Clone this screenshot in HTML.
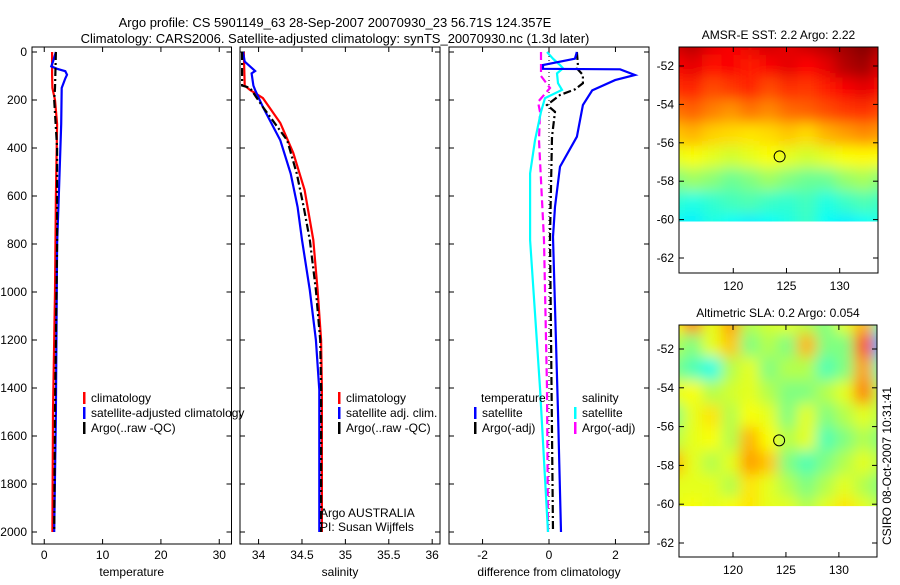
<!DOCTYPE html>
<html><head><meta charset="utf-8"><style>
body{margin:0;background:#fff}
svg{font-family:"Liberation Sans",sans-serif;font-size:12px}
</style></head><body>
<svg id="c" width="900" height="580" xmlns="http://www.w3.org/2000/svg">
<rect width="900" height="580" fill="#fff"/>
<text x="335" y="27" text-anchor="middle" font-size="13">Argo profile: CS 5901149_63 28-Sep-2007 20070930_23 56.71S 124.357E</text>
<text x="335" y="43" text-anchor="middle" font-size="13">Climatology: CARS2006. Satellite-adjusted climatology: synTS_20070930.nc (1.3d later)</text>
<g id="g"></g>
<text x="320" y="517">Argo AUSTRALIA</text>
<text x="320" y="531">PI: Susan Wijffels</text>
<text transform="translate(891,545) rotate(-90)">CSIRO 08-Oct-2007 10:31:41</text>
</svg>
<script>
// ---- data ----
const tempClimD=[0,100,150,200,300,600,1000,1500,2000];
const tempClimV=[1.35,1.35,1.4,1.85,2.2,2.0,1.85,1.5,1.4];
const tempSatD=[0,40,60,70,80,95,110,150,300,450,600,800,1500,2000];
const tempSatV=[2.0,1.5,1.2,2.2,3.6,3.9,3.6,3.0,2.9,2.7,2.5,2.2,2.0,1.7];
const tempArgoD=[0,150,200,400,800,1500,2000];
const tempArgoV=[2.0,1.85,1.7,2.2,2.2,1.85,1.7];
const salClimD=[0,140,158,192,296,421,575,783,992,1200,1408,2000];
const salClimV=[33.83,33.84,33.90,34.05,34.25,34.40,34.53,34.63,34.68,34.72,34.73,34.73];
const salSatD=[0,40,66,79,89,140,158,229,368,507,646,783,992,1200,1408,2000];
const salSatV=[33.82,33.84,33.92,33.96,33.92,33.94,33.96,34.05,34.25,34.37,34.45,34.50,34.59,34.66,34.70,34.70];
const salArgoD=[0,140,149,229,368,507,646,783,992,1200,1400,2000];
const salArgoV=[33.81,33.81,33.9,34.05,34.33,34.44,34.52,34.59,34.66,34.71,34.72,34.72];
const dTSatD=[0,28,54,70,72,96,117,160,221,353,478,645,770,1500,2000];
const dTSatV=[0.84,0.78,-0.18,-0.18,2.14,2.59,1.99,1.3,1.02,0.84,0.33,0.18,0.12,0.27,0.36];
const dTArgoD=[0,54,68,96,130,156,179,221,249,353,770,2000];
const dTArgoV=[0.84,0.87,0.84,1.02,1.02,0.78,0.33,-0.06,0.18,0.09,0.03,0.12];
const dSSatD=[0,28,54,68,89,130,158,192,249,368,506,784,1400,2000];
const dSSatV=[-0.06,0.12,0.33,0.42,0.24,0.27,0.39,-0.12,-0.24,-0.42,-0.57,-0.57,-0.27,-0.03];
const dSArgoD=[0,100,150,208,249,368,784,1400,2000];
const dSArgoV=[-0.24,-0.24,0.03,-0.33,-0.27,-0.3,-0.15,-0.06,-0.03];
const depthTicks=[0,200,400,600,800,1000,1200,1400,1600,1800,2000];
const tempTicks=[0,10,20,30];
const salTicks=[34,34.5,35,35.5,36];
const salTickLabels=["34","34.5","35","35.5","36"];
const diffTicks=[-2,0,2];
const sst=[
[.92,.95,.9,.88,.9,.92,.9,.93,.95,.97,1,.95],
[.88,.9,.86,.88,.85,.88,.9,.87,.9,.95,.97,.9],
[.83,.84,.8,.82,.84,.8,.83,.82,.85,.88,.9,.86],
[.76,.78,.75,.73,.76,.74,.77,.78,.8,.82,.83,.8],
[.68,.7,.67,.66,.65,.66,.68,.66,.7,.72,.74,.72],
[.6,.62,.6,.58,.6,.62,.6,.58,.6,.62,.63,.62],
[.5,.53,.51,.48,.5,.53,.5,.48,.48,.52,.54,.5],
[.42,.4,.42,.44,.45,.43,.42,.44,.4,.43,.45,.43],
[.38,.36,.4,.38,.36,.38,.4,.43,.38,.36,.38,.4]];
const sla=[
[.62,.75,.6,.72,.55,.58,.6,.55,.5,.6,.7,.45],
[.55,.5,.6,.68,.5,.55,.5,.7,.5,.5,.8,.3],
[.5,.45,.4,.55,.6,.5,.55,.55,.45,.5,.72,.45],
[.6,.62,.55,.58,.6,.55,.5,.5,.55,.6,.75,.55],
[.5,.6,.65,.55,.62,.6,.5,.6,.5,.55,.6,.55],
[.55,.6,.62,.55,.7,.62,.55,.6,.45,.5,.55,.5],
[.7,.6,.55,.6,.72,.68,.5,.45,.5,.55,.6,.55],
[.6,.6,.6,.55,.65,.6,.55,.5,.55,.6,.55,.5],
[.6,.62,.6,.62,.65,.6,.6,.55,.6,.65,.6,.55]];
const lonTicks=[120,125,130];
const latTicks=[-52,-54,-56,-58,-60,-62];
const floatLon=124.357, floatLat=-56.71;
// ---- drawing ----
const NS="http://www.w3.org/2000/svg";const G=document.getElementById('g');
function mk(t,a,p){const e=document.createElementNS(NS,t);for(const k in a)e.setAttribute(k,a[k]);(p||G).appendChild(e);return e;}
const dY=d=>52+d*0.24;
const panels=[
 {x0:32,x1:231.5,v0:-2.1,v1:32.1,ticks:tempTicks,labels:tempTicks.map(String),title:"temperature",name:"temperature"},
 {x0:240,x1:440,v0:33.786,v1:36.09,ticks:salTicks,labels:salTickLabels,title:"salinity",name:"salinity"},
 {x0:449,x1:649,v0:-3.01,v1:3.01,ticks:diffTicks,labels:diffTicks.map(String),title:"difference from climatology",name:"difference"}];
panels.forEach((p,i)=>{
 p.X=v=>p.x0+(v-p.v0)/(p.v1-p.v0)*(p.x1-p.x0);
 let r=mk('rect',{x:p.x0,y:47,width:p.x1-p.x0,height:497,fill:'none',stroke:'#000'});
 
 
 p.ticks.forEach((t,j)=>{const x=p.X(t);
  mk('line',{x1:x,x2:x,y1:544,y2:539,stroke:'#000'});mk('line',{x1:x,x2:x,y1:47,y2:52,stroke:'#000'});
  let tx=mk('text',{x:x,y:559,'text-anchor':'middle'});tx.textContent=p.labels[j];
  
  });
 depthTicks.forEach(d=>{const y=dY(d);
  mk('line',{x1:p.x0,x2:p.x0+5,y1:y,y2:y,stroke:'#000'});mk('line',{x1:p.x1,x2:p.x1-5,y1:y,y2:y,stroke:'#000'});
  if(i==0){let tx=mk('text',{x:27,y:y+4,'text-anchor':'end'});tx.textContent=d;
   
   }});
 let tt=mk('text',{x:(p.x0+p.x1)/2,y:576,'text-anchor':'middle'});tt.textContent=p.title;
 
 
});
function line(p,D,V,col,dash,name,w){const pts=D.map((d,k)=>p.X(V[k]).toFixed(1)+','+dY(d).toFixed(1)).join(' ');
 const a={points:pts,fill:'none',stroke:col,'stroke-width':w||2.2};if(dash)a['stroke-dasharray']=dash;
 const e=mk('polyline',a);
 
 }
const[P1,P2,P3]=panels;
line(P1,tempClimD,tempClimV,'#f00',null,'temp-climatology-line');
line(P1,tempSatD,tempSatV,'#00f',null,'temp-satellite-line');
line(P1,tempArgoD,tempArgoV,'#000','8,3,2,3','temp-argo-line');
line(P2,salClimD,salClimV,'#f00',null,'sal-climatology-line');
line(P2,salSatD,salSatV,'#00f',null,'sal-satellite-line');
line(P2,salArgoD,salArgoV,'#000','8,3,2,3','sal-argo-line');
mk('line',{x1:P3.X(0),x2:P3.X(0),y1:52,y2:532,stroke:'#000','stroke-dasharray':'1,3'});
line(P3,dSArgoD,dSArgoV,'#f0f','8,4','dsal-argo-line');
line(P3,dSSatD,dSSatV,'#0ff',null,'dsal-satellite-line');
line(P3,dTArgoD,dTArgoV,'#000','8,3,2,3','dtemp-argo-line');
line(P3,dTSatD,dTSatV,'#00f',null,'dtemp-satellite-line');
function leg(x,y,col,txt,name){mk('rect',{x:x,y:y-10,width:2.5,height:12,fill:col});
 let t=mk('text',{x:x+8,y:y});t.textContent=txt;
 
 }
leg(83,402,'#f00','climatology','legend-temp-climatology');
leg(83,417,'#00f','satellite-adjusted climatology','legend-temp-satellite');
leg(83,432,'#000','Argo(..raw -QC)','legend-temp-argo');
leg(338,402,'#f00','climatology','legend-sal-climatology');
leg(338,417,'#00f','satellite adj. clim.','legend-sal-satellite');
leg(338,432,'#000','Argo(..raw -QC)','legend-sal-argo');
let th=mk('text',{x:481,y:402});th.textContent='temperature';


let sh=mk('text',{x:582,y:402});sh.textContent='salinity';


leg(474,417,'#00f','satellite','legend-dtemp-satellite');
leg(474,432,'#000','Argo(-adj)','legend-dtemp-argo');
leg(574,417,'#0ff','satellite','legend-dsal-satellite');
leg(574,432,'#f0f','Argo(-adj)','legend-dsal-argo');
// maps
function jet(v){v=Math.max(0,Math.min(1,v));const f=t=>Math.round(255*Math.max(0,Math.min(1,1.5-Math.abs(4*v-t))));return `rgb(${f(3)},${f(2)},${f(1)})`;}
function map(o){const X=l=>o.x0+(l-o.l0)/(o.l1-o.l0)*(o.x1-o.x0);const Y=la=>o.ya+(la-(-52))*o.ppd*-1;
 const cid='clip'+o.name;const cp=mk('clipPath',{id:cid});mk('rect',{x:o.x0,y:o.y0,width:o.x1-o.x0,height:Y(-60.1)-o.y0},cp);
 const g=mk('g',{'clip-path':`url(#${cid})`});const fid='f'+o.name;
 const flt=mk('filter',{id:fid,x:'-10%',y:'-10%',width:'120%',height:'120%'});mk('feGaussianBlur',{stdDeviation:7},flt);
 const gi=mk('g',{filter:`url(#${fid})`},g);
 const rows=o.data.length,cols=o.data[0].length;const top=o.y0-15,bot=Y(-60.1)+15,lft=o.x0-15,rgt=o.x1+15;
 const ch=(bot-top)/rows,cw=(rgt-lft)/cols;
 o.data.forEach((row,r)=>row.forEach((v,c)=>{const e=mk('rect',{x:lft+c*cw,y:top+r*ch,width:cw+0.5,height:ch+0.5,fill:jet(v)},gi);
  
  }));
 const fr=mk('rect',{x:o.x0,y:o.y0,width:o.x1-o.x0,height:o.y1-o.y0,fill:'none',stroke:'#000'});
 
 
 lonTicks.forEach(l=>{const x=X(l);mk('line',{x1:x,x2:x,y1:o.y1,y2:o.y1-5,stroke:'#000'});mk('line',{x1:x,x2:x,y1:o.y0,y2:o.y0+5,stroke:'#000'});
  const t=mk('text',{x:x,y:o.y1+17,'text-anchor':'middle'});t.textContent=l;
  
  });
 latTicks.forEach(la=>{const y=Y(la);mk('line',{x1:o.x0,x2:o.x0+5,y1:y,y2:y,stroke:'#000'});mk('line',{x1:o.x1,x2:o.x1-5,y1:y,y2:y,stroke:'#000'});
  const t=mk('text',{x:o.x0-5,y:y+4,'text-anchor':'end'});t.textContent=la;
  
  });
 const c=mk('circle',{cx:X(floatLon),cy:Y(floatLat),r:5.5,fill:'none',stroke:'#000'});
 
 
 const t=mk('text',{x:(o.x0+o.x1)/2,y:o.y0-8,'text-anchor':'middle'});t.textContent=o.title;
 
 }
map({name:'sst',data:sst,x0:679,x1:878,y0:47,y1:273,l0:114.9,l1:133.6,ya:66,ppd:19.2,title:'AMSR-E SST: 2.2 Argo: 2.22'});
map({name:'sla',data:sla,x0:679,x1:877,y0:325,y1:557,l0:114.9,l1:133.6,ya:349,ppd:19.4,title:'Altimetric SLA: 0.2 Argo: 0.054'});
</script>
</body></html>
